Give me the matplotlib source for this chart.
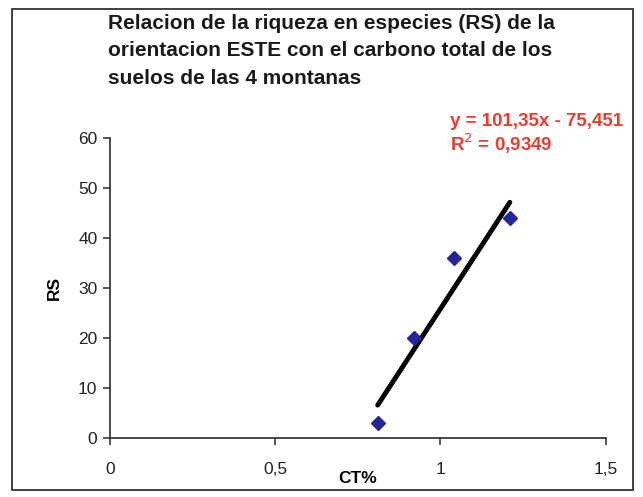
import numpy as np
import matplotlib.pyplot as plt
from matplotlib.patches import Rectangle

plt.rcParams['font.family'] = ['Liberation Sans', 'DejaVu Sans']

# carbono total (%) y riqueza en especies, orientacion ESTE
ct = [0.81, 0.92, 1.04, 1.21]
rs = [3, 20, 36, 44]

# linea de tendencia
slope = 101.35
intercept = -75.451
r2 = 0.9349

xticks = [0, 0.5, 1, 1.5]
xtick_labels = ["0", "0,5", "1", "1,5"]
yticks = [0, 10, 20, 30, 40, 50, 60]

fig = plt.figure(figsize=(6.43, 4.97), dpi=100)
ax = fig.add_axes([0.171, 0.118, 0.771, 0.604])

ax.plot(ct, rs, linestyle='none', marker='D', markersize=7,
        color='#25259a', zorder=3)

xs = np.array([min(ct), max(ct)])
ax.plot(xs, slope * xs + intercept, color='black', lw=3.5, solid_capstyle='round')

ax.set_xlim(0, 1.5)
ax.set_ylim(0, 60)
ax.set_xticks(xticks)
ax.set_xticklabels(xtick_labels)
ax.set_yticks(yticks)
for side in ['top', 'right']:
    ax.spines[side].set_visible(False)
for side in ['left', 'bottom']:
    ax.spines[side].set_color('#3a3a3a')
    ax.spines[side].set_linewidth(1.3)
ax.tick_params(direction='out', length=5, width=1.2, color='#3a3a3a',
               labelsize=12.5, labelcolor='#222222', pad=4)
ax.tick_params(axis='x', pad=12)

ax.set_xlabel("CT%", fontsize=12.5, fontweight='bold', labelpad=-4)
ax.set_ylabel("RS", fontsize=12.5, fontweight='bold', labelpad=12)

fig.text(0.168, 0.972, "Relacion de la riqueza en especies (RS) de la\n"
         "orientacion ESTE con el carbono total de los\n"
         "suelos de las 4 montanas",
         fontsize=15, fontweight='bold', color='#1a1a1a', va='top', ha='left',
         linespacing=1.56)

eq_color = '#f03a2e'
fig.text(0.70, 1 - 126 / 497, f"y = {slope:.2f}x - {abs(intercept):.3f}".replace('.', ','),
         fontsize=13.5, fontweight='bold', color=eq_color, va='baseline')
fig.text(0.70, 1 - 151 / 497, f"R$^2$ = {r2:.4f}".replace('.', ','),
         fontsize=13.5, fontweight='bold', color=eq_color, va='baseline')

fig.patches.append(Rectangle((0.019, 0.014), 0.965, 0.968, transform=fig.transFigure,
                             fill=False, edgecolor='#333333', lw=1.3))

fig.savefig('out.png', dpi=100)
